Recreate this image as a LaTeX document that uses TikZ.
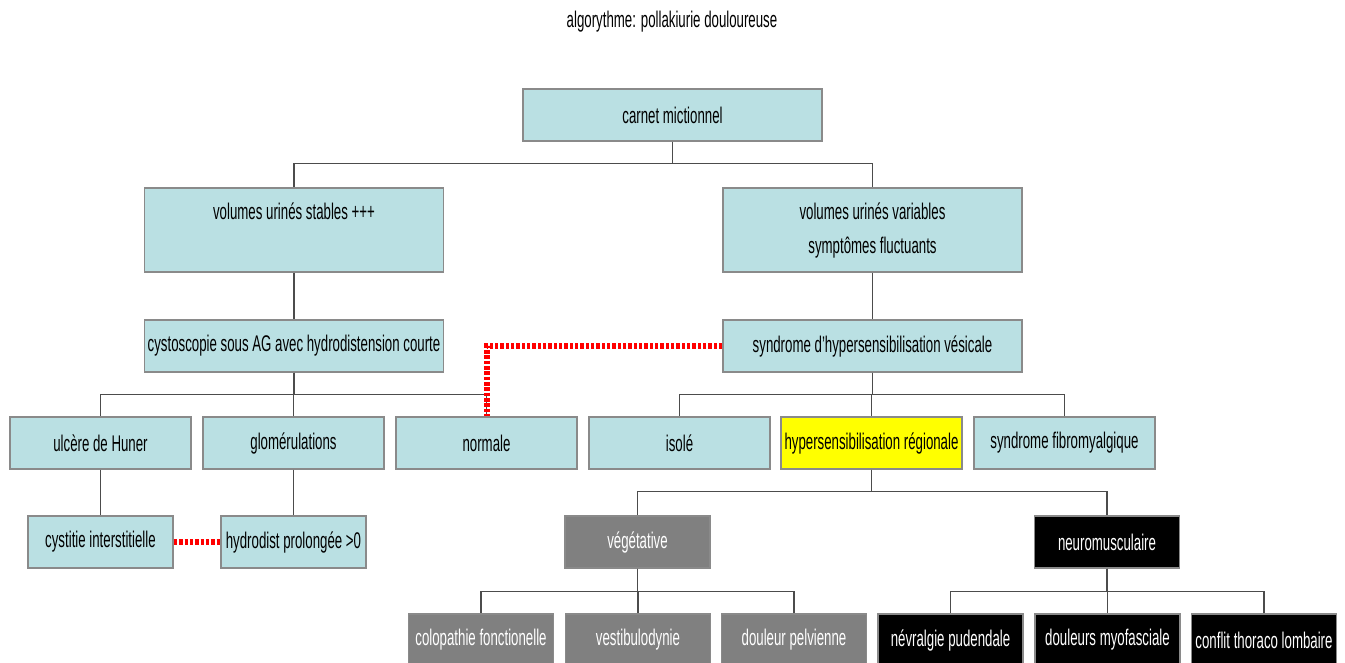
\documentclass[tikz,border=0pt]{standalone}
\usepackage{fontspec}
\setmainfont[FakeStretch=0.585]{Liberation Sans}
\usepackage{tikz}
\usetikzlibrary{positioning}
\definecolor{AlgoCyan}{HTML}{BAE0E3}
\definecolor{AlgoEdge}{HTML}{8A8A8A}
\definecolor{AlgoGrey}{HTML}{808080}
\definecolor{AlgoYellow}{HTML}{FFFF00}
\definecolor{AlgoRed}{HTML}{FF0000}
\tikzset{
  abox/.style={draw=AlgoEdge,fill=AlgoCyan,line width=1.1pt,align=center,inner sep=0pt,font=\fontsize{17}{25.5}\selectfont,minimum height=39pt},
  aboxwide/.style={abox,minimum width=224pt},
  aboxmid/.style={abox,minimum width=136pt},
  aboxsmall/.style={abox,minimum width=109pt},
  ayellow/.style={aboxmid,fill=AlgoYellow},
  agrey/.style={aboxsmall,fill=AlgoGrey,text=white},
  ablack/.style={aboxsmall,fill=black,text=white},
  alink/.style={draw=black!70,line width=1.1pt},
  arelation/.style={draw=AlgoRed,line width=4.5pt,dash pattern=on 2.6pt off 1.4pt}
}
\begin{document}
\begin{tikzpicture}[x=0.75pt,y=-0.75pt]
  \useasboundingbox (0,0) rectangle (1345,662);
  \node[font=\fontsize{17}{20}\selectfont] (title) at (672,22) {algorythme: pollakiurie douloureuse};
  \node[aboxwide] (carnet) at (672.5,115) {carnet mictionnel};
  \node[aboxwide,minimum height=63pt] (stables) at (294,230) {volumes urinés stables +++\\\vphantom{yp}};
  \node[aboxwide,minimum height=63pt] (variables) at (872.5,230) {volumes urinés variables\\symptômes fluctuants};
  \node[aboxwide] (cysto) at (294,346) {cystoscopie sous AG avec hydrodistension courte};
  \node[aboxwide] (synd) at (872.5,346) {syndrome d'hypersensibilisation vésicale};
  \node[aboxmid] (ulcere) at (100.5,443) {ulcère de Huner};
  \node[aboxmid] (glom) at (293.5,443) {glomérulations};
  \node[aboxmid] (normale) at (486.5,443) {normale};
  \node[aboxmid] (isole) at (679.5,443) {isolé};
  \node[ayellow] (hyperreg) at (871.5,443) {hypersensibilisation régionale};
  \node[aboxmid] (fibro) at (1064.5,443) {syndrome fibromyalgique};
  \node[aboxsmall] (cystitie) at (100.5,542) {cystitie interstitielle};
  \node[aboxsmall] (hydrodist) at (293.5,542) {hydrodist prolongée >0};
  \node[agrey] (vege) at (637.5,542) {végétative};
  \node[ablack] (neuro) at (1107,542) {neuromusculaire};
  \node[agrey] (colo) at (481,640) {colopathie fonctionelle};
  \node[agrey] (vestib) at (638,640) {vestibulodynie};
  \node[agrey] (pelv) at (794,640) {douleur pelvienne};
  \node[ablack] (pudend) at (950.5,640) {névralgie pudendale};
  \node[ablack] (myofasc) at (1107.5,640) {douleurs myofasciale};
  \node[ablack] (thoraco) at (1264,640) {conflit thoraco lombaire};
  \draw[alink] (carnet.south) -- ++(0,22) -| (stables.north);
  \draw[alink] (carnet.south) -- ++(0,22) -| (variables.north);
  \draw[alink] (stables) -- (cysto);
  \draw[alink] (variables) -- (synd);
  \draw[alink] (cysto.south) -- ++(0,22) -| (ulcere.north);
  \draw[alink] (cysto.south) -- ++(0,22) -| (glom.north);
  \draw[alink] (cysto.south) -- ++(0,22) -| (normale.north);
  \draw[alink] (synd.south) -- ++(0,22) -| (isole.north);
  \draw[alink] (synd.south) -- ++(0,22) -| (hyperreg.north);
  \draw[alink] (synd.south) -- ++(0,22) -| (fibro.north);
  \draw[alink] (ulcere) -- (cystitie);
  \draw[alink] (glom) -- (hydrodist);
  \draw[alink] (hyperreg.south) -- ++(0,22) -| (vege.north);
  \draw[alink] (hyperreg.south) -- ++(0,22) -| (neuro.north);
  \draw[alink] (vege.south) -- ++(0,23) -| (colo.north);
  \draw[alink] (vege.south) -- ++(0,23) -| (vestib.north);
  \draw[alink] (vege.south) -- ++(0,23) -| (pelv.north);
  \draw[alink] (neuro.south) -- ++(0,23) -| (pudend.north);
  \draw[alink] (neuro.south) -- ++(0,23) -| (myofasc.north);
  \draw[alink] (neuro.south) -- ++(0,23) -| (thoraco.north);
  \draw[arelation] (cystitie) -- (hydrodist);
  \draw[arelation] (synd.west) -| (normale.north);
\end{tikzpicture}
\end{document}
